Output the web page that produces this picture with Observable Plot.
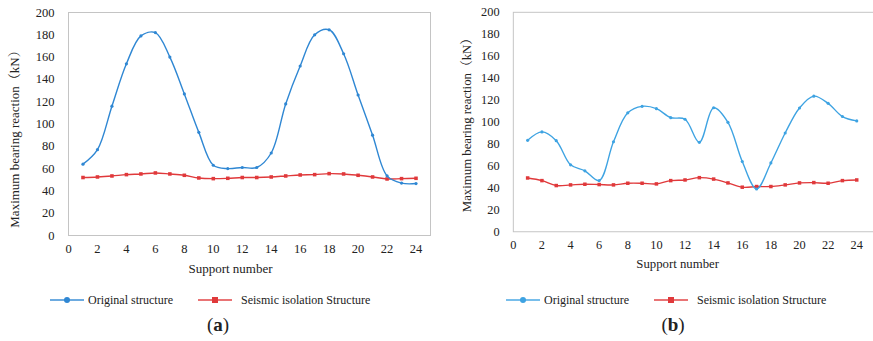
<!DOCTYPE html>
<html>
<head>
<meta charset="utf-8">
<script src="https://cdn.jsdelivr.net/npm/d3@7"></script>
<script src="https://cdn.jsdelivr.net/npm/@observablehq/plot@0.6"></script>
<style>
  body { margin: 0; background: #fff; }
  #root { position: relative; width: 873px; height: 341px; overflow: hidden; background: #fff;
          font-family: 'Liberation Serif', 'Noto Serif CJK SC', serif; color: #222; }
  .panel { position: absolute; top: 0; }
  .leg { position: absolute; top: 292px; height: 16px; display: flex; align-items: center;
         font-size: 12px; white-space: nowrap; }
  .leg svg { display: block; margin-right: 3px; }
  .tag { position: absolute; top: 314px; font-size: 19px; transform: translateX(-50%); }
  .tag b { font-weight: bold; }
</style>
</head>
<body>
<div id="root"></div>
<script>
// ---- data ----
const supports = [1,2,3,4,5,6,7,8,9,10,11,12,13,14,15,16,17,18,19,20,21,22,23,24];
const originalA = [64,77,116,154,179,182,160,127,92.5,63,60,61,61,74,118,152,180,184.5,163,126,90,53.5,47,46.6];
const isolatedA = [52,52.5,53.4,54.6,55.2,56.1,55.2,54,51.6,51,51.3,52,52,52.5,53.4,54.3,54.6,55.5,55.2,54,52.5,50.7,51,51.3];
const originalB = [83.3,91,83,61,55.5,46.6,82,108.4,114.3,112.2,104,102.5,81.5,113,99.7,64,39,62.7,90,112.8,123.6,117,105,101];
const isolatedB = [49,46.6,42.1,42.7,43.3,43,42.7,44.2,44.2,43.6,46.6,47.2,49.3,48,44.5,40.6,41.2,41.2,42.7,44.5,44.8,44.2,46.6,47.2];
const xTicks = [0,2,4,6,8,10,12,14,16,18,20,22,24];
const yTicks = [0,20,40,60,80,100,120,140,160,180,200];
const seriesNames = ["Original structure", "Seismic isolation Structure"];
const xTitle = "Support number";
const yTitle = "Maximum bearing reaction（kN）";
const panelTags = ["a", "b"];

const RED = "#e0393b";
const FONT = "'Liberation Serif', 'Noto Serif CJK SC', serif";

function makePanel(orig, iso, o) {
  const od = supports.map((s, i) => ({s, v: orig[i]}));
  const id = supports.map((s, i) => ({s, v: iso[i]}));
  return Plot.plot({
    width: o.width, height: 282,
    marginLeft: o.ml, marginRight: o.mr, marginTop: 12, marginBottom: 47,
    x: {domain: o.xdom},
    y: {domain: [0, 200]},
    style: {fontFamily: FONT, fontSize: "12.5px", color: "#222", background: "transparent", overflow: "visible"},
    marks: [
      Plot.frame({stroke: "#c4c4c4"}),
      Plot.axisX({ticks: xTicks, tickSize: 0, tickPadding: 9, label: null, fontSize: 12.5}),
      Plot.axisY({ticks: yTicks, tickSize: 0, tickPadding: 14, label: null, fontSize: 12.5}),
      Plot.line(id, {x: "s", y: "v", stroke: RED, strokeWidth: 1.4, curve: "catmull-rom"}),
      Plot.dot(id, {x: "s", y: "v", fill: RED, symbol: "square", r: 2}),
      Plot.line(od, {x: "s", y: "v", stroke: o.blue, strokeWidth: 1.4, curve: "catmull-rom"}),
      Plot.dot(od, {x: "s", y: "v", fill: o.blue, r: 1.6}),
      Plot.text([xTitle], {text: d => d, frameAnchor: "bottom", dx: o.xlDx, dy: 37, fontSize: 13, fill: "#222"}),
      Plot.text([yTitle], {text: d => d, frameAnchor: "left", textAnchor: "middle", dx: o.ylDx, dy: o.ylDy, rotate: -90, fontSize: 13, fill: "#222"})
    ]
  });
}

const root = document.getElementById("root");

const panels = [
  {orig: originalA, iso: isolatedA, left: 0, width: 440, ml: 68, mr: 10, xdom: [0, 25], blue: "#2f87d3",
   xlDx: -19, ylDx: -54, ylDy: 12,
   leg: [{x: 50, color: "#2f87d3"}, {x: 198, color: RED}], tagX: 218},
  {orig: originalB, iso: isolatedB, left: 440, width: 440, ml: 74, mr: 0, xdom: [0, 25.17], blue: "#3ea3e2",
   xlDx: -16, ylDx: -47, ylDy: 0,
   leg: [{x: 506, color: "#3ea3e2"}, {x: 654, color: RED}], tagX: 673}
];

panels.forEach((p, k) => {
  const div = document.createElement("div");
  div.className = "panel";
  div.style.left = p.left + "px";
  div.appendChild(makePanel(p.orig, p.iso, p));
  root.appendChild(div);

  p.leg.forEach((l, j) => {
    const item = document.createElement("div");
    item.className = "leg";
    item.style.left = l.x + "px";
    const marker = j === 0
      ? `<circle cx="17" cy="8" r="3" fill="${l.color}"/>`
      : `<rect x="14" y="5" width="6" height="6" fill="${l.color}"/>`;
    item.innerHTML = `<svg width="35" height="16"><line x1="0" x2="34" y1="8" y2="8" stroke="${l.color}" stroke-opacity="0.7" stroke-width="2"/>${marker}</svg><span${j === 1 ? ' style="margin-left:5px"' : ''}>${seriesNames[j]}</span>`;
    root.appendChild(item);
  });

  const tag = document.createElement("div");
  tag.className = "tag";
  tag.style.left = p.tagX + "px";
  tag.innerHTML = `(<b>${panelTags[k]}</b>)`;
  root.appendChild(tag);
});
</script>
</body>
</html>
